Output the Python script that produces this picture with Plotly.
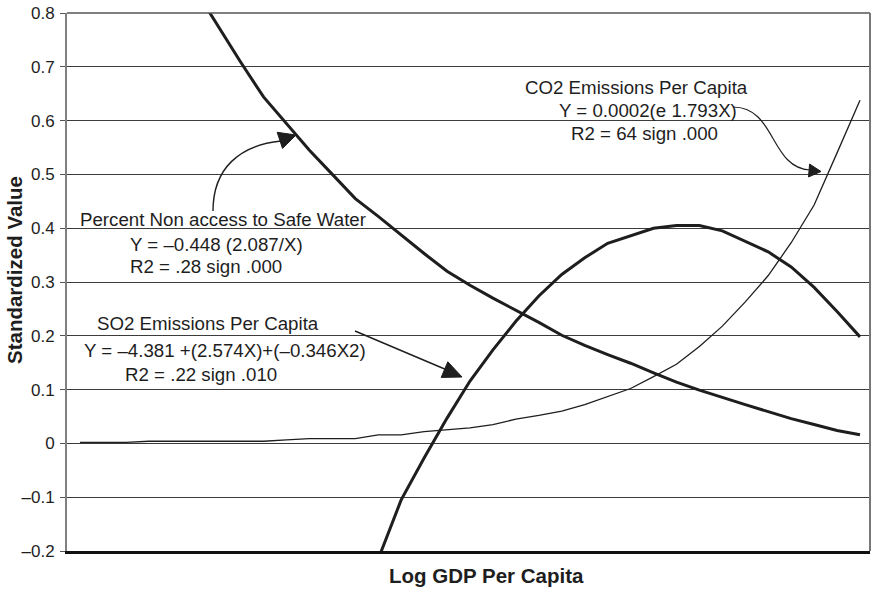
import plotly.graph_objects as go

# ---------------- data ----------------
log_gdp_index = list(range(35))  # evenly spaced observations along Log GDP Per Capita

water_non_access = [None, None, None, None, None,
                    0.845, 0.777, 0.709, 0.644, 0.594, 0.545, 0.500, 0.455, 0.422, 0.387,
                    0.353, 0.320, 0.294, 0.270, 0.248, 0.225, 0.201, 0.182, 0.165, 0.149,
                    0.131, 0.114, 0.099, 0.085, 0.072, 0.059, 0.046, 0.035, 0.024, 0.016]

so2_per_capita = [None] * 13 + [
    -0.215, -0.105, -0.027, 0.047, 0.116, 0.174, 0.227, 0.274, 0.314, 0.345,
    0.372, 0.386, 0.400, 0.405, 0.405, 0.395, 0.376, 0.356, 0.328, 0.290,
    0.245, 0.198]

co2_per_capita = [0.002, 0.002, 0.002, 0.004, 0.004, 0.004, 0.004, 0.004, 0.004, 0.0065,
                  0.009, 0.009, 0.009, 0.016, 0.016, 0.022, 0.026, 0.029, 0.035, 0.045,
                  0.052, 0.060, 0.072, 0.087, 0.102, 0.124, 0.147, 0.180, 0.218, 0.263,
                  0.312, 0.373, 0.443, 0.540, 0.638]

y_tick_values = [-0.2, -0.1, 0, 0.1, 0.2, 0.3, 0.4, 0.5, 0.6, 0.7, 0.8]
y_tick_labels = ["\u20130.2", "\u20130.1", "0", "0.1", "0.2", "0.3", "0.4", "0.5", "0.6", "0.7", "0.8"]

water_label = ["Percent Non access to Safe Water", "Y = \u20130.448 (2.087/X)", "R2 = .28 sign .000"]
so2_label = ["SO2 Emissions Per Capita", "Y = \u20134.381 +(2.574X)+(\u20130.346X2)", "R2 = .22 sign .010"]
co2_label = ["CO2 Emissions Per Capita", "Y = 0.0002(e 1.793X)", "R2 = 64 sign .000"]

# ---------------- layout geometry (page pixels) ----------------
W, H = 874, 590
L, R, T, B = 67, 870, 13, 551
X_RANGE = [-0.567, 34.436]
Y_RANGE = [-0.2, 0.8]


def px_x(p):
    return X_RANGE[0] + (p - L) / (R - L) * (X_RANGE[1] - X_RANGE[0])


def px_y(p):
    return Y_RANGE[1] - (p - T) / (B - T) * (Y_RANGE[1] - Y_RANGE[0])


def paper_x(p):
    return (p - L) / (R - L)


def paper_y(p):
    return (B - p) / (B - T)


def curve_path(pts):
    (x0, y0), (x1, y1), (x2, y2), (x3, y3) = pts
    return (f"M {px_x(x0)} {px_y(y0)} C {px_x(x1)} {px_y(y1)}, "
            f"{px_x(x2)} {px_y(y2)}, {px_x(x3)} {px_y(y3)}")


def head_path(tip, direction, length, half):
    tx, ty = tip
    dx, dy = direction
    n = (dx * dx + dy * dy) ** 0.5
    dx, dy = dx / n, dy / n
    bx, by = tx - dx * length, ty - dy * length
    px, py = -dy, dx
    p1 = (bx + px * half, by + py * half)
    p2 = (bx - px * half, by - py * half)
    return (f"M {px_x(tx)} {px_y(ty)} L {px_x(p1[0])} {px_y(p1[1])} "
            f"L {px_x(p2[0])} {px_y(p2[1])} Z")


INK = "#1e1e1e"
FONT = "Liberation Sans, Arial, Helvetica, sans-serif"

fig = go.Figure()
fig.add_trace(go.Scatter(x=log_gdp_index, y=water_non_access, mode="lines",
                         line=dict(color=INK, width=3), name="Percent Non access to Safe Water",
                         showlegend=False))
fig.add_trace(go.Scatter(x=log_gdp_index, y=so2_per_capita, mode="lines",
                         line=dict(color=INK, width=3), name="SO2 Emissions Per Capita",
                         showlegend=False))
fig.add_trace(go.Scatter(x=log_gdp_index, y=co2_per_capita, mode="lines",
                         line=dict(color=INK, width=1.3), name="CO2 Emissions Per Capita",
                         showlegend=False))

shapes = []
# frame (top, right)
shapes.append(dict(type="line", xref="paper", yref="paper", x0=0, x1=1, y0=1, y1=1,
                   line=dict(color="#555555", width=1.5)))
shapes.append(dict(type="line", xref="paper", yref="paper", x0=1, x1=1, y0=0, y1=1,
                   line=dict(color="#777777", width=2)))
# water arrow (curved)
shapes.append(dict(type="path", xref="x", yref="y",
                   path=curve_path([(213, 211), (213, 168), (240, 145), (281, 141)]),
                   line=dict(color=INK, width=1.4)))
shapes.append(dict(type="path", xref="x", yref="y",
                   path=head_path((296, 135), (15, -5), 17, 8.5),
                   fillcolor=INK, line=dict(color=INK, width=1)))
# SO2 arrow (straight)
shapes.append(dict(type="line", xref="x", yref="y",
                   x0=px_x(355), y0=px_y(331), x1=px_x(447), y1=px_y(370),
                   line=dict(color=INK, width=1.4)))
shapes.append(dict(type="path", xref="x", yref="y",
                   path=head_path((462, 377), (92, 39), 19, 8.5),
                   fillcolor=INK, line=dict(color=INK, width=1)))
# CO2 arrow (S-curve)
shapes.append(dict(type="path", xref="x", yref="y",
                   path=curve_path([(733, 107), (776, 107), (770, 168), (810, 170)]),
                   line=dict(color=INK, width=1.2)))
shapes.append(dict(type="path", xref="x", yref="y",
                   path=head_path((821, 171.5), (12, 1), 12, 6.5),
                   fillcolor=INK, line=dict(color=INK, width=1)))

annotations = []


def add_text(text, x_left, y_center):
    annotations.append(dict(text=text, x=px_x(x_left), y=px_y(y_center), xref="x", yref="y",
                            xanchor="left", yanchor="middle", showarrow=False,
                            font=dict(family=FONT, size=18.7, color=INK)))


for t, xl, yc in zip(water_label, [78, 128, 128], [219, 244, 266]):
    add_text(t, xl, yc)
for t, xl, yc in zip(so2_label, [95, 82, 123], [323, 350, 374]):
    add_text(t, xl, yc)
for t, xl, yc in zip(co2_label, [523, 557, 569], [87, 110, 133]):
    add_text(t, xl, yc)

# axis titles
annotations.append(dict(text="<b>Log GDP Per Capita</b>", x=paper_x(486), y=paper_y(575),
                        xref="paper", yref="paper", showarrow=False,
                        xanchor="center", yanchor="middle",
                        font=dict(family=FONT, size=20.5, color=INK)))
annotations.append(dict(text="<b>Standardized Value</b>", x=paper_x(14), y=paper_y(270),
                        xref="paper", yref="paper", showarrow=False, textangle=-90,
                        xanchor="center", yanchor="middle",
                        font=dict(family=FONT, size=20.5, color=INK)))

fig.update_layout(
    width=W, height=H,
    margin=dict(l=L, r=W - R, t=T, b=H - B, pad=0),
    paper_bgcolor="white", plot_bgcolor="white",
    shapes=shapes, annotations=annotations,
    xaxis=dict(range=X_RANGE, showgrid=False, zeroline=False, showticklabels=False,
               ticks="", showline=True, linecolor="#111111", linewidth=3),
    yaxis=dict(range=Y_RANGE, tickvals=y_tick_values, ticktext=y_tick_labels,
               showgrid=True, gridcolor="#3c3c3c", gridwidth=1, zeroline=False,
               showline=True, linecolor="#808080", linewidth=2,
               ticks="outside", ticklen=5, tickcolor="#555555", tickwidth=1,
               ticklabelstandoff=2,
               tickfont=dict(family=FONT, size=17, color=INK)),
)

fig.write_html("out.html",
               config={"displayModeBar": False},
               post_script="document.body.style.margin='0px';document.body.style.overflow='hidden';")
